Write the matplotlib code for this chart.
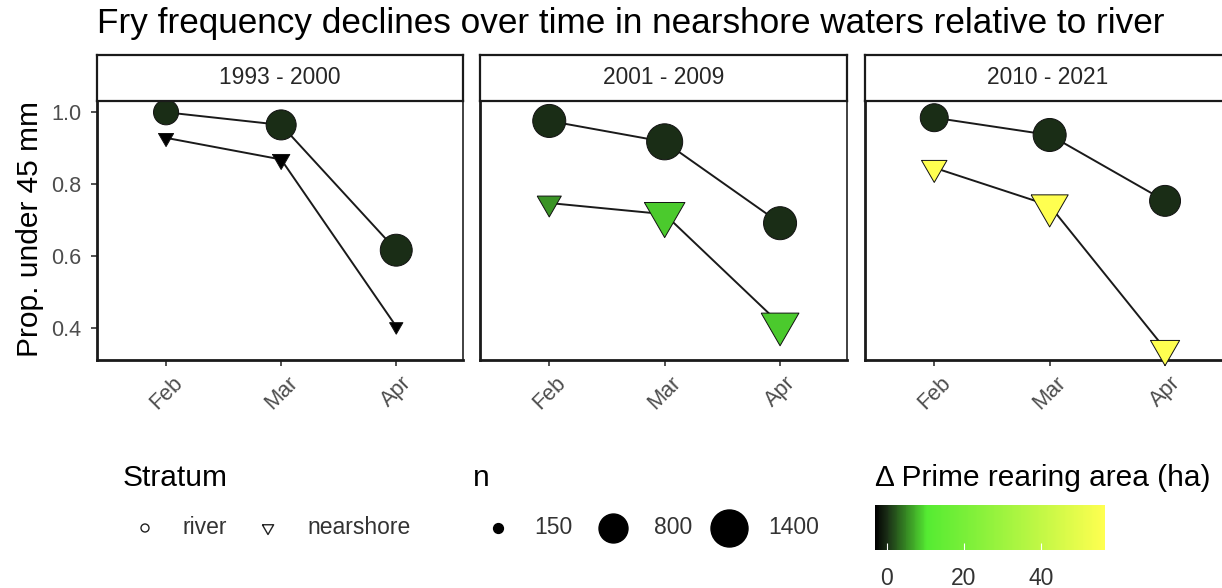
import numpy as np
import matplotlib.pyplot as plt
from matplotlib.colors import LinearSegmentedColormap, Normalize
from matplotlib.cm import ScalarMappable

plt.rcParams['font.family'] = ['Liberation Sans', 'DejaVu Sans']

W, H = 1222, 588
DPI = 100

months = ['Feb', 'Mar', 'Apr']
periods = ['1993 - 2000', '2001 - 2009', '2010 - 2021']

# proportion of fry under 45 mm, one row per period
river_prop = [[1.000, 0.965, 0.617], [0.976, 0.918, 0.692], [0.985, 0.937, 0.754]]
near_prop = [[0.929, 0.869, 0.405], [0.748, 0.717, 0.412], [0.846, 0.741, 0.343]]
# sample sizes
river_n = [[580, 870, 1000], [1080, 1320, 1080], [740, 1080, 930]]
near_n = [[160, 180, 150], [290, 870, 740], [320, 710, 420]]
# change in prime rearing area (ha)
river_area = [[0, 0, 0], [0, 0, 0], [0, 0, 0]]
near_area = [[-3.1, -3.1, -3.1], [5.7, 8.6, 8.6], [56.6, 56.6, 56.6]]

size_breaks = [150, 800, 1400]
area_lim = (-3.1, 56.6)
area_ticks = [0, 20, 40]

GRAY = '#4d4d4d'

# fill scale: black -> green -> yellow
anchors = [-3.1, 0, 10.4, 56.6]
anchor_cols = ['#000000', '#1a2e16', '#55eb32', '#ffff50']
lo, hi = area_lim
cmap = LinearSegmentedColormap.from_list(
    'rearing', [((a - lo) / (hi - lo), c) for a, c in zip(anchors, anchor_cols)])
norm = Normalize(lo, hi)

# down triangle with its centroid at the origin
s3 = np.sqrt(3)
tri = [(-1, 1 / s3), (1, 1 / s3), (0, -2 / s3), (-1, 1 / s3)]


def diam_px(n):
    n = np.asarray(n, dtype=float)
    return 8 + 29 * np.sqrt(np.clip((n - 145) / 1255, 0, None))


def circle_s(n):
    return (diam_px(n) * 72 / DPI) ** 2


def tri_s(n):
    # same area as the circle: width 1.35x the diameter
    return (1.35 * diam_px(n) / 0.866 * 72 / DPI) ** 2


def px_box(x0, y0, x1, y1):
    return [x0 / W, 1 - y1 / H, (x1 - x0) / W, (y1 - y0) / H]


fig = plt.figure(figsize=(W / DPI, H / DPI), dpi=DPI)

panel_x = [(97, 463), (480, 847), (865, 1232)]
top, bottom, strip_top = 101, 360, 55
x = np.arange(1, 4)

for i, (x0, x1) in enumerate(panel_x):
    ax = fig.add_axes(px_box(x0, top, x1, bottom))
    ax.plot(x, river_prop[i], color='#1a1a1a', lw=1.4, zorder=2)
    ax.plot(x, near_prop[i], color='#1a1a1a', lw=1.4, zorder=2)
    ax.scatter(x, river_prop[i], s=circle_s(river_n[i]), c=river_area[i], cmap=cmap, norm=norm,
               marker='o', edgecolors='#111111', linewidths=0.7, zorder=3, clip_on=False)
    ax.scatter(x, near_prop[i], s=tri_s(near_n[i]), c=near_area[i], cmap=cmap, norm=norm,
               marker=tri, edgecolors='#111111', linewidths=0.7, zorder=3, clip_on=False)
    ax.set_xlim(0.4, 3.58)
    ax.set_ylim(0.312, 1.0314)
    ax.set_xticks(x)
    ax.set_xticklabels(months, rotation=45, ha='center', va='top', color=GRAY, fontsize=15.6)
    ax.tick_params(axis='x', length=4, width=1.2, pad=5, color='#333333')
    if i == 0:
        ax.set_yticks([0.4, 0.6, 0.8, 1.0])
        ax.set_yticklabels(['0.4', '0.6', '0.8', '1.0'], color=GRAY, fontsize=15.6)
        ax.tick_params(axis='y', length=4, width=1.2, pad=7, color='#333333')
    else:
        ax.set_yticks([])
    for side in ['left', 'bottom']:
        ax.spines[side].set_linewidth(2.0)
        ax.spines[side].set_color('#1a1a1a')
    for side in ['top', 'right']:
        ax.spines[side].set_linewidth(1.3)
        ax.spines[side].set_color('#333333')

    # facet strip; the last one runs off the right edge, so centre on the visible part
    sx = fig.add_axes(px_box(x0, strip_top, x1, top))
    sx.set_xticks([])
    sx.set_yticks([])
    for sp in sx.spines.values():
        sp.set_linewidth(1.6)
        sp.set_color('#1a1a1a')
    cx = 0.5 if i < 2 else (463 - 97) / 2 / (x1 - x0)
    sx.text(cx, 0.5, periods[i], transform=sx.transAxes, ha='center', va='center',
            fontsize=16.4, color='#262626')

fig.text(97 / W, 1 - 33 / H, 'Fry frequency declines over time in nearshore waters relative to river',
         fontsize=25.3, va='baseline', ha='left', color='black')
fig.text(30 / W, 1 - 229 / H, 'Prop. under 45 mm', rotation=90, fontsize=21.5,
         ha='center', va='center', color='black')

# legends
lg = fig.add_axes([0, 0, 1, 1])
lg.set_xlim(0, W)
lg.set_ylim(H, 0)
lg.axis('off')
lg.patch.set_alpha(0)

ly, ty = 528, 478
lg.text(123, ty, 'Stratum', fontsize=21.5, va='center', ha='left')
lg.scatter([145], [ly], s=(8 * 0.72) ** 2, marker='o', facecolors='none', edgecolors='#222222', linewidths=1.0)
lg.text(183, ly, 'river', fontsize=16.5, va='center', ha='left', color='#333333')
lg.scatter([268], [ly], s=(13 * 0.72) ** 2, marker=tri, facecolors='none', edgecolors='#222222', linewidths=1.0)
lg.text(307, ly, 'nearshore', fontsize=16.5, va='center', ha='left', color='#333333')

lg.text(473, ty, 'n', fontsize=21.5, va='center', ha='left')
for xc, xt, b in zip([498, 613, 729], [534, 654, 768], size_breaks):
    lg.scatter([xc], [ly], s=circle_s(b), marker='o', color='black')
    lg.text(xt, ly, str(b), fontsize=16.5, va='center', ha='left', color='#333333')

lg.text(875, ty, '\u0394 Prime rearing area (ha)', fontsize=21.5, va='center', ha='left')
cax = fig.add_axes(px_box(875, 505, 1105, 550))
cb = fig.colorbar(ScalarMappable(norm=norm, cmap=cmap), cax=cax, orientation='horizontal')
cb.outline.set_visible(False)
cb.set_ticks(area_ticks)
cb.ax.tick_params(direction='in', length=5, width=0.8, color='white', pad=12,
                  labelsize=16.5, labelcolor='#333333')

fig.savefig('out.png', dpi=DPI)
